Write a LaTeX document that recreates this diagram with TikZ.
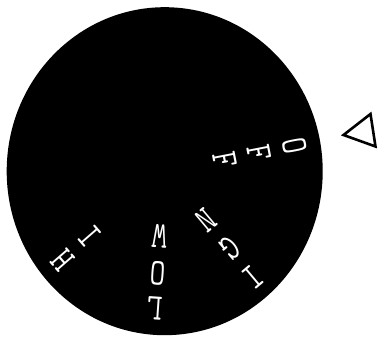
\documentclass[tikz,border=0pt]{standalone}
\usepackage{graphicx}
\newcommand{\tallch}[1]{\scalebox{1}[1.25]{#1}}
\tikzset{
  dial/.style={fill=black},
  ltr/.style={text=white, inner sep=0pt, font=\ttfamily\fontsize{30}{30}\selectfont},
  pointer/.style={draw=black, line width=2.6pt, line join=miter}
}

\begin{document}
\begin{tikzpicture}[x=1pt, y=1pt]
  \useasboundingbox (0,0) rectangle (380,337);
  \coordinate (c) at (164.7,165.8);
  \path[dial] (c) ellipse [x radius=158, y radius=164];

  % OFF
  \node[ltr, rotate=-79] (off1) at ([shift={(11:132)}]c) {\tallch{O}};
  \node[ltr, rotate=-79] (off2) at ([shift={(11:96)}]c) {\tallch{F}};
  \node[ltr, rotate=-79] (off3) at ([shift={(11:61)}]c) {\tallch{F}};
  % IGN
  \node[ltr, rotate=-140] (ign1) at ([shift={(-50:138)}]c) {\tallch{I}};
  \node[ltr, rotate=-140] (ign2) at ([shift={(-50:101)}]c) {\tallch{G}};
  \node[ltr, rotate=-140] (ign3) at ([shift={(-50:64)}]c) {\tallch{N}};
  % LOW
  \node[ltr, rotate=-184] (low1) at ([shift={(-94:138)}]c) {\tallch{L}};
  \node[ltr, rotate=-184] (low2) at ([shift={(-94:102)}]c) {\tallch{O}};
  \node[ltr, rotate=-184] (low3) at ([shift={(-94:65)}]c) {\tallch{W}};
  % HI
  \node[ltr, rotate=-229] (hi1) at ([shift={(-139:135)}]c) {\tallch{H}};
  \node[ltr, rotate=-229] (hi2) at ([shift={(-139:99)}]c) {\tallch{I}};

  % marker
  \draw[pointer] (343.5,202) -- (370.5,223) -- (375.5,190.5) -- cycle;
\end{tikzpicture}
\end{document}
